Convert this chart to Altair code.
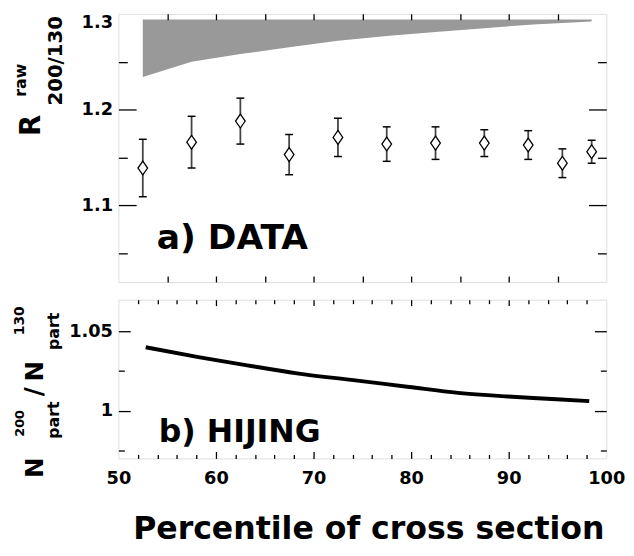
import altair as alt
import pandas as pd

# ---------------- data ----------------
# panel a) measured ratio with errors
pct = [52.5, 57.5, 62.5, 67.5, 72.5, 77.5, 82.5, 87.5, 92.0, 95.5, 98.5]
ratio = [1.139, 1.166, 1.188, 1.153, 1.171, 1.164, 1.165, 1.165, 1.163, 1.144, 1.156]
ratio_err = [0.030, 0.027, 0.024, 0.021, 0.020, 0.018, 0.017, 0.014, 0.015, 0.015, 0.012]

# panel a) systematic band (grey)
band_pct = [52.5, 57.5, 62.5, 67.5, 72.5, 77.5, 82.5, 87.5, 92.5, 98.5]
band_low = [1.234, 1.250, 1.258, 1.265, 1.272, 1.277, 1.281, 1.285, 1.289, 1.292]
band_high = [1.294, 1.294, 1.294, 1.294, 1.294, 1.294, 1.294, 1.294, 1.294, 1.294]

# panel b) HIJING Npart ratio
hij_pct = [52.8, 58.2, 63.2, 68.3, 74.5, 79.8, 84.8, 89.9, 94.9, 98.25]
hij_ratio = [1.0400, 1.0338, 1.0286, 1.0236, 1.0190, 1.0150, 1.0113, 1.0090, 1.0073, 1.0061]

# tick values
a_y_labels = [1.1, 1.2]
a_y_top_label = [1.3]
a_y_major = [1.1, 1.2]
a_y_minor = [1.05, 1.15, 1.25]
a_x_ticks = [55, 60, 65, 70, 75, 80, 85, 90, 95]
b_x_labels = [50, 60, 70, 80, 90, 100]
b_x_major = [60, 70, 80, 90]
b_x_minor = [52, 54, 56, 58, 62, 64, 66, 68, 72, 74, 76, 78, 82, 84, 86, 88, 92, 94, 96, 98]
b_y_labels = [1.0, 1.05]
b_y_major = [1.0, 1.05]
b_y_minor = [0.975, 1.025]

# ---------------- layout ----------------
W = 495
H1 = 272
H2 = 161
FONT = "DejaVu Sans"

xs = alt.Scale(domain=[50, 100], nice=False, zero=False)
ys1 = alt.Scale(domain=[1.02, 1.30], nice=False, zero=False)
ys2 = alt.Scale(domain=[0.97, 1.07], nice=False, zero=False)

pts = pd.DataFrame({"pct": pct, "r": ratio, "e": ratio_err})
pts["lo"] = pts["r"] - pts["e"]
pts["hi"] = pts["r"] + pts["e"]
band = pd.DataFrame({"pct": band_pct, "lo": band_low, "hi": band_high})
hij = pd.DataFrame({"pct": hij_pct, "r": hij_ratio})


def tick_axis(orient, values, size, offset):
    return alt.Axis(orient=orient, values=values, tickSize=size, offset=offset,
                    labels=False, domain=False, grid=False, title=None, ticks=True,
                    tickColor="black", tickWidth=1.3, zindex=1)


def label_axis(orient, values, pad, fmt, baseline="middle"):
    return alt.Axis(orient=orient, values=values, ticks=False, domain=False, grid=False,
                    labelPadding=pad, labelFlush=False, labelOverlap=False, format=fmt,
                    labelBaseline=baseline,
                    title=None, labelFont=FONT, labelFontWeight="bold", labelFontSize=18,
                    labelColor="black")


def axis_layer(df, ys, xaxis, yaxis):
    return alt.Chart(df).mark_point(opacity=0).encode(
        x=alt.X("pct:Q", scale=xs, axis=xaxis),
        y=alt.Y("r:Q", scale=ys, axis=yaxis),
    )


def txt(s, x, y, size, angle=0, align="left"):
    return alt.Chart(pd.DataFrame({"s": [s]})).mark_text(
        text=s, font=FONT, fontWeight="bold", fontSize=size, angle=angle,
        align=align, baseline="alphabetic", color="black"
    ).encode(x=alt.value(x), y=alt.value(y))


# ---------------- panel a ----------------
band_layer = alt.Chart(band).mark_area(color="#999999", opacity=1).encode(
    x=alt.X("pct:Q", scale=xs, axis=None),
    y=alt.Y("lo:Q", scale=ys1, axis=None),
    y2=alt.Y2("hi:Q"),
)
err_layer = alt.Chart(pts).mark_rule(color="#444444", strokeWidth=1.8).encode(
    x=alt.X("pct:Q", scale=xs, axis=None),
    y=alt.Y("lo:Q", scale=ys1, axis=None),
    y2=alt.Y2("hi:Q"),
)
cap_lo = alt.Chart(pts).mark_tick(orient="horizontal", size=8, thickness=1.5,
                                  color="black", opacity=1).encode(
    x=alt.X("pct:Q", scale=xs, axis=None),
    y=alt.Y("lo:Q", scale=ys1, axis=None),
)
cap_hi = alt.Chart(pts).mark_tick(orient="horizontal", size=8, thickness=1.5,
                                  color="black", opacity=1).encode(
    x=alt.X("pct:Q", scale=xs, axis=None),
    y=alt.Y("hi:Q", scale=ys1, axis=None),
)
pt_layer = alt.Chart(pts).mark_point(
    shape="M0,-1L0.7,0L0,1L-0.7,0Z", size=196, filled=True, color="white",
    stroke="black", strokeWidth=1.3, opacity=1
).encode(
    x=alt.X("pct:Q", scale=xs, axis=None),
    y=alt.Y("r:Q", scale=ys1, axis=None),
)

top = alt.layer(
    band_layer, err_layer, cap_lo, cap_hi, pt_layer,
    axis_layer(pts, ys1, tick_axis("top", a_x_ticks, 6, -H1), label_axis("left", a_y_labels, 6, ".1f")),
    axis_layer(pts, ys1, tick_axis("bottom", a_x_ticks, 6, -H1), tick_axis("right", a_y_major, 18, -W)),
    axis_layer(pts, ys1, None, tick_axis("right", a_y_minor, 9, -W)),
    axis_layer(pts, ys1, None, tick_axis("left", a_y_major, 18, -W)),
    axis_layer(pts, ys1, None, tick_axis("left", a_y_minor, 9, -W)),
    axis_layer(pts, ys1, None, label_axis("left", a_y_top_label, 6, ".1f", "top")),
    txt("a) DATA", 39, 239, 35),
    txt("R", -80, 124, 28, angle=270),
    txt("raw", -94, 84, 16, angle=270),
    txt("200/130", -57, 93, 20, angle=270),
).resolve_axis(x="independent", y="independent").properties(width=W, height=H1)

# ---------------- panel b ----------------
line_layer = alt.Chart(hij).mark_line(color="black", strokeWidth=4, interpolate="monotone").encode(
    x=alt.X("pct:Q", scale=xs, axis=None),
    y=alt.Y("r:Q", scale=ys2, axis=None),
)

bottom = alt.layer(
    line_layer,
    axis_layer(hij, ys2, label_axis("bottom", b_x_labels, 11, "d", "top"), label_axis("left", b_y_labels, 6, ".2~f")),
    axis_layer(hij, ys2, tick_axis("top", b_x_major, 7, -H2), tick_axis("right", b_y_major, 12, -W)),
    axis_layer(hij, ys2, tick_axis("top", b_x_minor, 4, -H2), tick_axis("right", b_y_minor, 6, -W)),
    axis_layer(hij, ys2, tick_axis("bottom", b_x_major, 6, -H2), tick_axis("left", b_y_major, 12, -W)),
    axis_layer(hij, ys2, tick_axis("bottom", b_x_minor, 4, -H2), tick_axis("left", b_y_minor, 6, -W)),
    txt("b) HIJING", 41, 144, 32),
    txt("N", -76, 181, 25, angle=270),
    txt("200", -96, 139, 13, angle=270),
    txt("part", -60, 141, 16, angle=270),
    txt("/", -77, 98, 25, angle=270),
    txt("N", -76, 83, 25, angle=270),
    txt("130", -96, 36, 14, angle=270),
    txt("part", -60, 51, 16, angle=270),
    txt("Percentile of cross section", 254, 243, 32, align="center"),
).resolve_axis(x="independent", y="independent").properties(width=W, height=H2)

chart = alt.vconcat(top, bottom, spacing=18, bounds="flush").properties(
    padding={"left": 4, "top": 0, "right": 0, "bottom": 0}
).configure_view(stroke="black", strokeWidth=1.5).configure(background="white")

chart.save("out.html", embed_options={"renderer": "svg", "actions": False})
